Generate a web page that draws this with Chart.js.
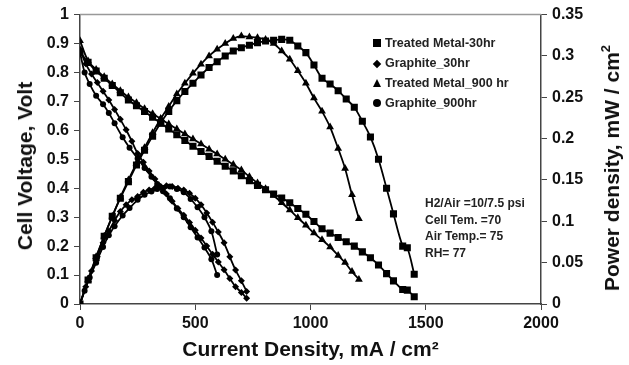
<!DOCTYPE html>
<html>
<head>
<meta charset="utf-8">
<script src="https://cdn.jsdelivr.net/npm/chart.js@4"></script>
<style>
  body { margin: 0; background: #fff; }
  #wrap { position: relative; width: 629px; height: 365px; }
  .note { position: absolute; font-family: "Liberation Sans", Arial, sans-serif; font-weight: bold; color: #222; white-space: nowrap; }
  .legend { left: 372px; top: 33px; font-size: 12.5px; line-height: 20px; }
  .legend .mk { display: inline-block; width: 10px; margin-right: 3px; text-align: center; }
  .sq { display: inline-block; width: 8px; height: 8px; background: #000; }
  .dm { display: inline-block; width: 6px; height: 6px; background: #000; transform: rotate(45deg); }
  .tr { display: inline-block; width: 0; height: 0; border-left: 4.5px solid transparent; border-right: 4.5px solid transparent; border-bottom: 8px solid #000; }
  .ci { display: inline-block; width: 8px; height: 8px; background: #000; border-radius: 50%; }
  .cond { left: 425px; top: 195px; font-size: 12px; line-height: 16.5px; }
  .ltitle { left: 25px; top: 166px; font-size: 21px; color: #111; transform: translate(-50%, -50%) rotate(-90deg); }
  .rtitle { left: 612px; top: 168px; font-size: 21px; color: #111; transform: translate(-50%, -50%) rotate(-90deg); }
  .rtitle sup { font-size: 13px; vertical-align: 9px; line-height: 0; }
</style>
</head>
<body>
<div id="wrap">
  <canvas id="chart" width="629" height="365"></canvas>
  <div class="note legend">
    <div><span class="mk"><span class="sq"></span></span>Treated Metal-30hr</div>
    <div><span class="mk"><span class="dm"></span></span>Graphite_30hr</div>
    <div><span class="mk"><span class="tr"></span></span>Treated Metal_900 hr</div>
    <div><span class="mk"><span class="ci"></span></span>Graphite_900hr</div>
  </div>
  <div class="note cond">
    <div>H2/Air =10/7.5 psi</div>
    <div>Cell Tem. =70</div>
    <div>Air Temp.= 75</div>
    <div>RH= 77</div>
  </div>
  <div class="note ltitle">Cell Voltage, Volt</div>
  <div class="note rtitle">Power density, mW / cm<sup>2</sup></div>
</div>
<script>
// Treated Metal-30hr (squares)
const tm30I = [0,35,70,105,140,175,210,245,280,315,350,385,420,455,490,525,560,595,630,665,700,735,770,805,840,875,910,945,980,1015,1050,1085,1120,1155,1190,1225,1260,1295,1330,1360,1400,1420,1450];
const tm30V = [0.87,0.835,0.805,0.78,0.755,0.73,0.705,0.685,0.665,0.645,0.625,0.605,0.585,0.565,0.545,0.527,0.51,0.493,0.476,0.46,0.443,0.426,0.41,0.395,0.38,0.366,0.35,0.33,0.31,0.285,0.26,0.245,0.23,0.215,0.2,0.18,0.16,0.135,0.105,0.08,0.05,0.048,0.025];
const tm30P = [0,0.029,0.056,0.082,0.106,0.128,0.148,0.168,0.186,0.203,0.219,0.233,0.246,0.257,0.267,0.277,0.286,0.293,0.300,0.306,0.310,0.313,0.316,0.318,0.319,0.320,0.319,0.312,0.304,0.289,0.273,0.266,0.258,0.248,0.238,0.221,0.202,0.175,0.140,0.109,0.070,0.068,0.036];

// Graphite_30hr (diamonds)
const g30I = [0,25,50,75,100,125,150,175,200,225,250,275,300,325,350,375,400,425,450,475,500,525,550,575,600,625,650,675,700,723];
const g30V = [0.88,0.83,0.795,0.765,0.735,0.705,0.672,0.638,0.602,0.562,0.52,0.49,0.46,0.432,0.405,0.38,0.355,0.33,0.307,0.282,0.255,0.228,0.2,0.172,0.145,0.118,0.088,0.06,0.04,0.02];
const g30P = [0,0.021,0.040,0.057,0.074,0.088,0.101,0.112,0.120,0.126,0.130,0.135,0.138,0.140,0.142,0.143,0.142,0.140,0.138,0.134,0.128,0.120,0.110,0.099,0.087,0.074,0.057,0.041,0.028,0.015];

// Treated Metal_900 hr (triangles)
const tm900I = [0,35,70,105,140,175,210,245,280,315,350,385,420,455,490,525,560,595,630,665,700,735,770,805,840,875,910,945,980,1015,1050,1085,1120,1150,1180,1210];
const tm900V = [0.91,0.84,0.81,0.785,0.76,0.737,0.715,0.695,0.675,0.657,0.64,0.622,0.605,0.587,0.57,0.553,0.535,0.518,0.50,0.482,0.463,0.44,0.418,0.398,0.375,0.35,0.325,0.298,0.272,0.245,0.222,0.197,0.168,0.143,0.112,0.085];
const tm900P = [0,0.029,0.057,0.082,0.106,0.129,0.150,0.170,0.189,0.207,0.224,0.239,0.254,0.267,0.279,0.290,0.300,0.308,0.315,0.321,0.324,0.323,0.322,0.320,0.315,0.306,0.296,0.282,0.267,0.249,0.233,0.214,0.188,0.164,0.132,0.103];

// Graphite_900hr (circles)
const g900I = [0,20,42,70,100,125,150,185,215,250,280,310,335,360,390,420,450,480,510,540,570,595];
const g900V = [0.87,0.80,0.76,0.72,0.69,0.66,0.625,0.576,0.54,0.503,0.47,0.44,0.415,0.39,0.365,0.33,0.30,0.265,0.23,0.195,0.155,0.10];
const g900P = [0,0.016,0.032,0.050,0.069,0.083,0.094,0.107,0.116,0.126,0.132,0.136,0.139,0.140,0.142,0.139,0.135,0.127,0.117,0.105,0.088,0.060];

const xTicks = [0, 500, 1000, 1500, 2000];

function pts(xs, ys) {
  return xs.map((x, i) => ({ x: x, y: ys[i] }));
}

function series(label, xs, ys, axis, style, radius) {
  return {
    label: label,
    data: pts(xs, ys),
    yAxisID: axis,
    showLine: true,
    borderColor: '#000',
    backgroundColor: '#000',
    borderWidth: 1.8,
    pointStyle: style,
    pointRadius: radius,
    pointBorderWidth: 0,
    tension: 0.3
  };
}

const boldFont = { family: '"Liberation Sans", Arial, sans-serif', weight: 'bold' };
const plainNum = v => String(+Number(v).toFixed(2));

// top frame line
const topLine = {
  id: 'topLine',
  afterDraw(chart) {
    const a = chart.chartArea, ctx = chart.ctx;
    ctx.save();
    ctx.strokeStyle = '#999';
    ctx.lineWidth = 1.5;
    ctx.beginPath();
    ctx.moveTo(a.left, a.top);
    ctx.lineTo(a.right, a.top);
    ctx.stroke();
    ctx.restore();
  }
};

new Chart(document.getElementById('chart'), {
  type: 'scatter',
  data: {
    datasets: [
      series('Treated Metal-30hr', tm30I, tm30V, 'y', 'rect', 5),
      series('Treated Metal-30hr power', tm30I, tm30P, 'y1', 'rect', 5),
      series('Graphite_30hr', g30I, g30V, 'y', 'rectRot', 3.5),
      series('Graphite_30hr power', g30I, g30P, 'y1', 'rectRot', 3.5),
      series('Treated Metal_900 hr', tm900I, tm900V, 'y', 'triangle', 4.5),
      series('Treated Metal_900 hr power', tm900I, tm900P, 'y1', 'triangle', 4.5),
      series('Graphite_900hr', g900I, g900V, 'y', 'circle', 3),
      series('Graphite_900hr power', g900I, g900P, 'y1', 'circle', 3)
    ]
  },
  options: {
    responsive: false,
    animation: false,
    layout: { padding: { top: 14 } },
    plugins: { legend: { display: false }, tooltip: { enabled: false } },
    scales: {
      x: {
        type: 'linear', min: 0, max: 2000,
        afterBuildTicks: s => { s.ticks = xTicks.map(v => ({ value: v })); },
        afterFit: s => { s.height = 61; },
        grid: { drawOnChartArea: false, tickLength: 6, color: '#444' },
        border: { color: '#444', width: 1.5 },
        ticks: { color: '#111', font: Object.assign({ size: 16 }, boldFont), padding: 4, callback: v => String(v) },
        title: { display: true, text: 'Current Density, mA / cm²', color: '#111', font: Object.assign({ size: 21 }, boldFont), padding: { top: 0, bottom: 2 } }
      },
      y: {
        position: 'left', min: 0, max: 1,
        afterFit: s => { s.width = 80; },
        grid: { drawOnChartArea: false, tickLength: 6, color: '#444' },
        border: { color: '#444', width: 1.5 },
        ticks: { stepSize: 0.1, color: '#111', font: Object.assign({ size: 16 }, boldFont), padding: 5, callback: plainNum },
        title: { display: false }
      },
      y1: {
        position: 'right', min: 0, max: 0.35,
        afterFit: s => { s.width = 88; },
        grid: { drawOnChartArea: false, tickLength: 6, color: '#444' },
        border: { color: '#444', width: 1.5 },
        ticks: { stepSize: 0.05, color: '#111', font: Object.assign({ size: 16 }, boldFont), padding: 5, callback: plainNum },
        title: { display: false }
      }
    }
  },
  plugins: [topLine]
});
</script>
</body>
</html>
